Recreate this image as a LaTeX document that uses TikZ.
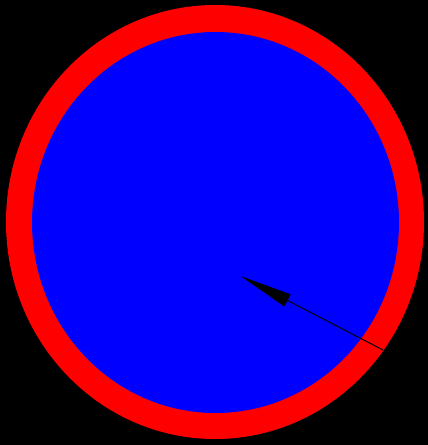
\documentclass[tikz,border=0pt]{standalone}
\usetikzlibrary{arrows.meta}
\definecolor{ringred}{HTML}{FF0000}
\definecolor{discblue}{HTML}{0000FF}

\begin{document}
\begin{tikzpicture}[x=1pt, y=-1pt]
      \fill[black] (0,0) rectangle (428,445);
      \useasboundingbox (0,0) rectangle (428,445);
      \fill[ringred] (215,222) ellipse [x radius=209, y radius=217];
      \fill[discblue] (215.5,222.5) ellipse [x radius=183.5, y radius=190.5];
      \coordinate (tail) at (383,350);
      \coordinate (tip) at (240.5,276);
      \draw[-{Triangle[length=53pt, width=13.5pt]}, line width=1pt, black] (tail) -- (tip);
    \end{tikzpicture}
\end{document}
